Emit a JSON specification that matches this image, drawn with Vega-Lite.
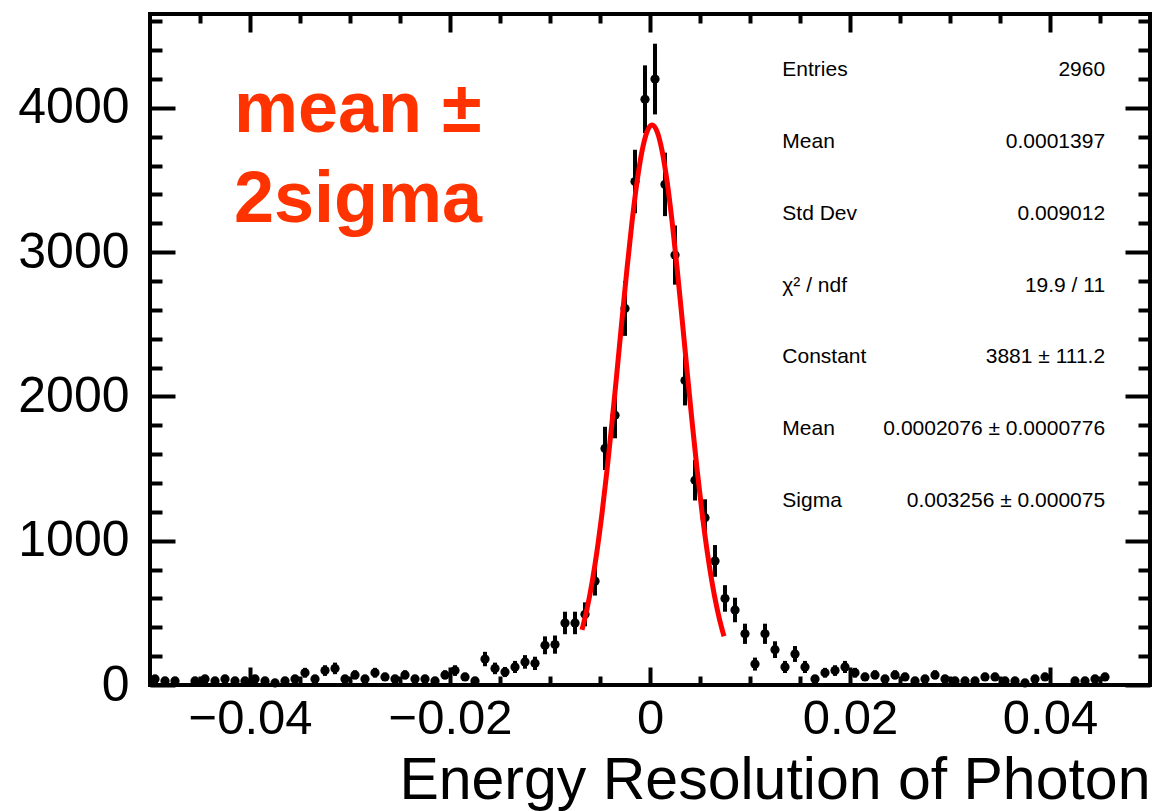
{
  "$schema": "https://vega.github.io/schema/vega-lite/v6.json",
  "width": 1000,
  "height": 671,
  "autosize": "none",
  "padding": {"left": 150, "top": 14, "right": 7, "bottom": 126},
  "background": "white",
  "config": {"view": {"stroke": "black", "strokeWidth": 4}, "font": "Liberation Sans"},
  "datasets": {
    "hist": [
      {"c": -0.0495, "y": 42, "err": 24}, {"c": -0.0485, "y": 28, "err": 20}, {"c": -0.0475, "y": 28, "err": 20},
      {"c": -0.0455, "y": 28, "err": 20}, {"c": -0.0445, "y": 42, "err": 24}, {"c": -0.0435, "y": 28, "err": 20},
      {"c": -0.0425, "y": 42, "err": 24}, {"c": -0.0415, "y": 28, "err": 20}, {"c": -0.0405, "y": 28, "err": 20},
      {"c": -0.0395, "y": 42, "err": 24}, {"c": -0.0385, "y": 28, "err": 20}, {"c": -0.0375, "y": 14, "err": 14},
      {"c": -0.0365, "y": 28, "err": 20}, {"c": -0.0355, "y": 42, "err": 24}, {"c": -0.0345, "y": 85, "err": 34},
      {"c": -0.0335, "y": 42, "err": 24}, {"c": -0.0325, "y": 100, "err": 37}, {"c": -0.0315, "y": 115, "err": 40},
      {"c": -0.0305, "y": 42, "err": 24}, {"c": -0.0295, "y": 70, "err": 31}, {"c": -0.0285, "y": 42, "err": 24},
      {"c": -0.0275, "y": 85, "err": 34}, {"c": -0.0265, "y": 56, "err": 28}, {"c": -0.0255, "y": 42, "err": 24},
      {"c": -0.0245, "y": 70, "err": 31}, {"c": -0.0235, "y": 42, "err": 24}, {"c": -0.0225, "y": 42, "err": 24},
      {"c": -0.0215, "y": 28, "err": 20}, {"c": -0.0205, "y": 70, "err": 31}, {"c": -0.0195, "y": 100, "err": 37},
      {"c": -0.0185, "y": 56, "err": 28}, {"c": -0.0175, "y": 28, "err": 20}, {"c": -0.0165, "y": 180, "err": 50},
      {"c": -0.0155, "y": 115, "err": 40}, {"c": -0.0145, "y": 90, "err": 35}, {"c": -0.0135, "y": 125, "err": 42},
      {"c": -0.0125, "y": 160, "err": 47}, {"c": -0.0115, "y": 150, "err": 46}, {"c": -0.0105, "y": 275, "err": 62},
      {"c": -0.0095, "y": 280, "err": 63}, {"c": -0.0085, "y": 430, "err": 78}, {"c": -0.0075, "y": 430, "err": 78},
      {"c": -0.0065, "y": 490, "err": 83}, {"c": -0.0055, "y": 720, "err": 100}, {"c": -0.0045, "y": 1640, "err": 150},
      {"c": -0.0035, "y": 1870, "err": 160}, {"c": -0.0025, "y": 2610, "err": 190}, {"c": -0.0015, "y": 3490, "err": 220},
      {"c": -0.0005, "y": 4060, "err": 235}, {"c": 0.0005, "y": 4200, "err": 245}, {"c": 0.0015, "y": 3470, "err": 220},
      {"c": 0.0025, "y": 2980, "err": 205}, {"c": 0.0035, "y": 2110, "err": 172}, {"c": 0.0045, "y": 1420, "err": 141},
      {"c": 0.0055, "y": 1160, "err": 127}, {"c": 0.0065, "y": 860, "err": 110}, {"c": 0.0075, "y": 600, "err": 92},
      {"c": 0.0085, "y": 520, "err": 85}, {"c": 0.0095, "y": 355, "err": 70}, {"c": 0.0105, "y": 145, "err": 45},
      {"c": 0.0115, "y": 355, "err": 70}, {"c": 0.0125, "y": 245, "err": 58}, {"c": 0.0135, "y": 125, "err": 42},
      {"c": 0.0145, "y": 215, "err": 55}, {"c": 0.0155, "y": 125, "err": 42}, {"c": 0.0165, "y": 42, "err": 24},
      {"c": 0.0175, "y": 85, "err": 34}, {"c": 0.0185, "y": 100, "err": 37}, {"c": 0.0195, "y": 125, "err": 42},
      {"c": 0.0205, "y": 85, "err": 34}, {"c": 0.0215, "y": 56, "err": 28}, {"c": 0.0225, "y": 70, "err": 31},
      {"c": 0.0235, "y": 42, "err": 24}, {"c": 0.0245, "y": 70, "err": 31}, {"c": 0.0255, "y": 56, "err": 28},
      {"c": 0.0265, "y": 28, "err": 20}, {"c": 0.0275, "y": 42, "err": 24}, {"c": 0.0285, "y": 70, "err": 31},
      {"c": 0.0295, "y": 42, "err": 24}, {"c": 0.0305, "y": 28, "err": 20}, {"c": 0.0315, "y": 28, "err": 20},
      {"c": 0.0325, "y": 28, "err": 20}, {"c": 0.0335, "y": 56, "err": 28}, {"c": 0.0345, "y": 56, "err": 28},
      {"c": 0.0355, "y": 28, "err": 20}, {"c": 0.0365, "y": 28, "err": 20}, {"c": 0.0375, "y": 14, "err": 14},
      {"c": 0.0385, "y": 42, "err": 24}, {"c": 0.0395, "y": 56, "err": 28}, {"c": 0.0425, "y": 28, "err": 20},
      {"c": 0.0435, "y": 28, "err": 20}, {"c": 0.0445, "y": 42, "err": 24}, {"c": 0.0455, "y": 56, "err": 28}
    ],
    "fit": [
      {"x": -0.0068, "f": 382.9}, {"x": -0.0063, "f": 526.7}, {"x": -0.0058, "f": 707.5}, {"x": -0.0053, "f": 928.2},
      {"x": -0.0048, "f": 1189.4}, {"x": -0.0043, "f": 1488.5}, {"x": -0.0038, "f": 1819.6}, {"x": -0.0033, "f": 2172.5},
      {"x": -0.0028, "f": 2533.1}, {"x": -0.0023, "f": 2885.0}, {"x": -0.0018, "f": 3209.2}, {"x": -0.0013, "f": 3486.5},
      {"x": -0.0008, "f": 3699.6}, {"x": -0.0003, "f": 3834.1}, {"x": 0.0002, "f": 3881.0}, {"x": 0.0007, "f": 3836.9},
      {"x": 0.0012, "f": 3704.9}, {"x": 0.0017, "f": 3494.0}, {"x": 0.0022, "f": 3218.4}, {"x": 0.0027, "f": 2895.4},
      {"x": 0.0032, "f": 2544.0}, {"x": 0.0037, "f": 2183.4}, {"x": 0.0042, "f": 1830.1}, {"x": 0.0047, "f": 1498.1},
      {"x": 0.0052, "f": 1198.0}, {"x": 0.0057, "f": 935.6}, {"x": 0.0062, "f": 713.6}, {"x": 0.0067, "f": 531.6},
      {"x": 0.0072, "f": 386.8}, {"x": 0.0074, "f": 338.4}
    ],
    "stats": [
      {"n": 1, "k": "Entries", "v": "2960"},
      {"n": 2, "k": "Mean", "v": "0.0001397"},
      {"n": 3, "k": "Std Dev", "v": "0.009012"},
      {"n": 4, "k": "χ² / ndf", "v": "19.9 / 11"},
      {"n": 5, "k": "Constant", "v": "3881 ± 111.2"},
      {"n": 6, "k": "Mean", "v": "0.0002076 ± 0.0000776"},
      {"n": 7, "k": "Sigma", "v": "0.003256 ± 0.000075"}
    ],
    "note": [{"t": "mean ±\n2sigma"}]
  },
  "layer": [
    {
      "data": {"name": "hist"},
      "mark": {"type": "errorbar", "color": "black", "thickness": 4},
      "encoding": {
        "x": {"field": "c", "type": "quantitative", "scale": {"domain": [-0.05, 0.05], "nice": false, "zero": false}, "axis": null},
        "y": {"field": "y", "type": "quantitative", "scale": {"domain": [0, 4651], "nice": false, "zero": false}, "axis": null},
        "yError": {"field": "err"}
      }
    },
    {
      "data": {"name": "hist"},
      "mark": {"type": "circle", "size": 85, "color": "black", "opacity": 1},
      "encoding": {
        "x": {"field": "c", "type": "quantitative", "scale": {"domain": [-0.05, 0.05], "nice": false, "zero": false}, "axis": null},
        "y": {"field": "y", "type": "quantitative", "scale": {"domain": [0, 4651], "nice": false, "zero": false}, "axis": null}
      }
    },
    {
      "data": {"name": "fit"},
      "mark": {"type": "line", "color": "#ff0000", "strokeWidth": 5, "interpolate": "monotone"},
      "encoding": {
        "x": {"field": "x", "type": "quantitative", "scale": {"domain": [-0.05, 0.05], "nice": false, "zero": false}, "axis": null},
        "y": {"field": "f", "type": "quantitative", "scale": {"domain": [0, 4651], "nice": false, "zero": false}, "axis": null}
      }
    },
    {
      "data": {"name": "stats"},
      "mark": {"type": "text", "align": "left", "baseline": "middle", "fontSize": 21, "font": "Liberation Sans", "color": "black"},
      "encoding": {
        "x": {"datum": 0.01323, "type": "quantitative", "scale": {"domain": [-0.05, 0.05], "nice": false, "zero": false}, "axis": null},
        "y": {"field": "n", "type": "ordinal", "scale": {"type": "point", "range": [56, 487], "padding": 0}, "axis": null},
        "text": {"field": "k"}
      }
    },
    {
      "data": {"name": "stats"},
      "mark": {"type": "text", "align": "right", "baseline": "middle", "fontSize": 21, "font": "Liberation Sans", "color": "black"},
      "encoding": {
        "x": {"datum": 0.04551, "type": "quantitative", "scale": {"domain": [-0.05, 0.05], "nice": false, "zero": false}, "axis": null},
        "y": {"field": "n", "type": "ordinal", "scale": {"type": "point", "range": [56, 487], "padding": 0}, "axis": null},
        "text": {"field": "v"}
      }
    },
    {
      "data": {"name": "note"},
      "mark": {"type": "text", "align": "left", "baseline": "alphabetic", "fontSize": 72, "fontWeight": "bold", "font": "Liberation Sans", "color": "#ff3300", "lineBreak": "\n", "lineHeight": 90},
      "encoding": {
        "x": {"datum": -0.0416, "type": "quantitative", "scale": {"domain": [-0.05, 0.05], "nice": false, "zero": false}, "axis": null},
        "y": {"datum": 3834, "type": "quantitative", "scale": {"domain": [0, 4651], "nice": false, "zero": false}, "axis": null},
        "text": {"field": "t"}
      }
    },
    {
      "data": {"name": "hist"},
      "mark": {"type": "point", "opacity": 0},
      "encoding": {
        "x": {"field": "c", "type": "quantitative", "scale": {"domain": [-0.05, 0.05], "nice": false, "zero": false},
          "axis": {"orient": "bottom", "values": [-0.04, -0.02, 0, 0.02, 0.04], "format": ".2~f", "ticks": false, "domain": false, "grid": false,
            "labelFontSize": 49, "labelFont": "Liberation Sans", "labelColor": "black", "labelPadding": 9, "labelFlush": false, "labelOverlap": false,
            "title": "Energy Resolution of Photon", "titleFontSize": 59, "titleFontWeight": "normal", "titleFont": "Liberation Sans", "titleColor": "black",
            "titleAnchor": "end", "titleAlign": "right", "titleBaseline": "alphabetic", "titleX": 1000, "titleY": 113}},
        "y": {"field": "y", "type": "quantitative", "scale": {"domain": [0, 4651], "nice": false, "zero": false},
          "axis": {"orient": "left", "values": [0, 1000, 2000, 3000, 4000], "format": "d", "ticks": false, "domain": false, "grid": false,
            "labelFontSize": 50, "labelFont": "Liberation Sans", "labelColor": "black", "labelPadding": 21, "labelFlush": false, "labelOverlap": false, "title": null}}
      }
    },
    {
      "data": {"name": "hist"},
      "mark": {"type": "point", "opacity": 0},
      "encoding": {
        "x": {"field": "c", "type": "quantitative", "scale": {"domain": [-0.05, 0.05], "nice": false, "zero": false},
          "axis": {"orient": "bottom", "values": [-0.04, -0.02, 0, 0.02, 0.04], "labels": false, "domain": false, "grid": false, "tickSize": -18, "tickWidth": 4, "tickColor": "black", "title": null}},
        "y": {"field": "y", "type": "quantitative", "scale": {"domain": [0, 4651], "nice": false, "zero": false},
          "axis": {"orient": "left", "values": [0, 1000, 2000, 3000, 4000], "labels": false, "domain": false, "grid": false, "tickSize": -25, "tickWidth": 4, "tickColor": "black", "title": null}}
      }
    },
    {
      "data": {"name": "hist"},
      "mark": {"type": "point", "opacity": 0},
      "encoding": {
        "x": {"field": "c", "type": "quantitative", "scale": {"domain": [-0.05, 0.05], "nice": false, "zero": false},
          "axis": {"orient": "bottom", "values": [-0.045, -0.035, -0.03, -0.025, -0.015, -0.01, -0.005, 0.005, 0.01, 0.015, 0.025, 0.03, 0.035, 0.045], "labels": false, "domain": false, "grid": false, "tickSize": -9, "tickWidth": 4, "tickColor": "black", "title": null}},
        "y": {"field": "y", "type": "quantitative", "scale": {"domain": [0, 4651], "nice": false, "zero": false},
          "axis": {"orient": "left", "values": [200, 400, 600, 800, 1200, 1400, 1600, 1800, 2200, 2400, 2600, 2800, 3200, 3400, 3600, 3800, 4200, 4400, 4600], "labels": false, "domain": false, "grid": false, "tickSize": -12, "tickWidth": 4, "tickColor": "black", "title": null}}
      }
    },
    {
      "data": {"name": "hist"},
      "mark": {"type": "point", "opacity": 0},
      "encoding": {
        "x": {"field": "c", "type": "quantitative", "scale": {"domain": [-0.05, 0.05], "nice": false, "zero": false},
          "axis": {"orient": "top", "values": [-0.04, -0.02, 0, 0.02, 0.04], "labels": false, "domain": false, "grid": false, "tickSize": -18, "tickWidth": 4, "tickColor": "black", "title": null}},
        "y": {"field": "y", "type": "quantitative", "scale": {"domain": [0, 4651], "nice": false, "zero": false},
          "axis": {"orient": "right", "values": [0, 1000, 2000, 3000, 4000], "labels": false, "domain": false, "grid": false, "tickSize": -25, "tickWidth": 4, "tickColor": "black", "title": null}}
      }
    },
    {
      "data": {"name": "hist"},
      "mark": {"type": "point", "opacity": 0},
      "encoding": {
        "x": {"field": "c", "type": "quantitative", "scale": {"domain": [-0.05, 0.05], "nice": false, "zero": false},
          "axis": {"orient": "top", "values": [-0.045, -0.035, -0.03, -0.025, -0.015, -0.01, -0.005, 0.005, 0.01, 0.015, 0.025, 0.03, 0.035, 0.045], "labels": false, "domain": false, "grid": false, "tickSize": -9, "tickWidth": 4, "tickColor": "black", "title": null}},
        "y": {"field": "y", "type": "quantitative", "scale": {"domain": [0, 4651], "nice": false, "zero": false},
          "axis": {"orient": "right", "values": [200, 400, 600, 800, 1200, 1400, 1600, 1800, 2200, 2400, 2600, 2800, 3200, 3400, 3600, 3800, 4200, 4400, 4600], "labels": false, "domain": false, "grid": false, "tickSize": -12, "tickWidth": 4, "tickColor": "black", "title": null}}
      }
    }
  ],
  "resolve": {"scale": {"x": "independent", "y": "independent"}, "axis": {"x": "independent", "y": "independent"}}
}
